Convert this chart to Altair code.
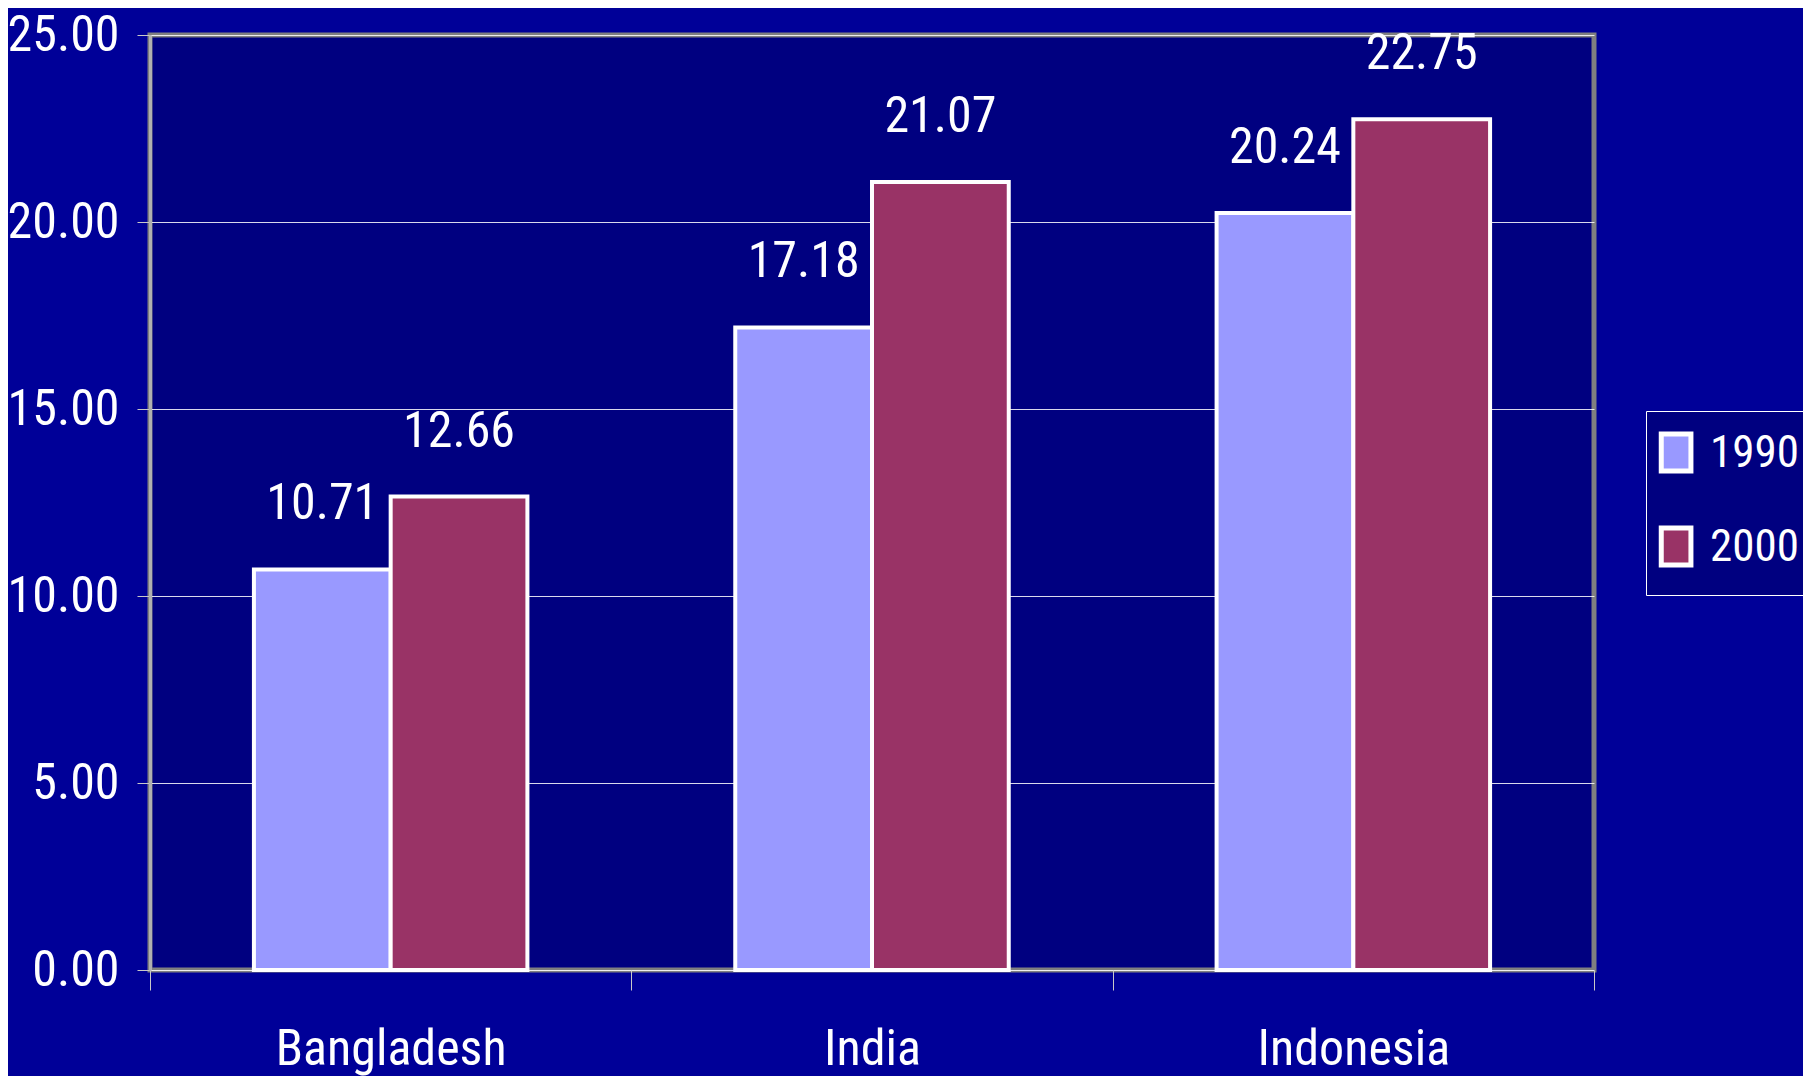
import altair as alt
import pandas as pd

countries = ["Bangladesh", "India", "Indonesia"]
years = ["1990", "2000"]
values_1990 = [10.71, 17.18, 20.24]
values_2000 = [12.66, 21.07, 22.75]
y_ticks = [0, 5, 10, 15, 20, 25]
colors = ["#9999FF", "#993366"]

rows = []
for c, a, b in zip(countries, values_1990, values_2000):
    rows.append({"country": c, "year": years[0], "value": a})
    rows.append({"country": c, "year": years[1], "value": b})
df = pd.DataFrame(rows)

FONT = "Roboto Condensed, Liberation Sans, Arial"
FS = 50

x = alt.X("country:N", sort=countries, title=None,
          scale=alt.Scale(paddingInner=0, paddingOuter=0),
          axis=alt.Axis(labelAngle=0, labelFontSize=FS, labelFont=FONT,
                        labelColor="white", tickBand="extent", tickSize=20,
                        tickColor="#C8C8C8", tickWidth=1, labelPadding=34,
                        labelLimit=0, domain=False, grid=False))
xo = alt.XOffset("year:N", sort=years, scale=alt.Scale(paddingInner=0, paddingOuter=0.76))
y = alt.Y("value:Q", title=None,
          scale=alt.Scale(domain=[0, 25], nice=False),
          axis=alt.Axis(values=y_ticks, format=".2f", labelFontSize=FS,
                        labelFont=FONT, labelColor="white", tickSize=13,
                        tickColor="#C8C8C8", labelPadding=18, labelLimit=0,
                        domainColor="#B0B0B0", domainWidth=3,
                        gridColor="white", gridWidth=1, gridOpacity=0.85))

color = alt.Color("year:N", sort=years,
                  scale=alt.Scale(domain=years, range=colors),
                  legend=alt.Legend(title=None, orient="none", legendX=1496, legendY=376,
                                    labelFont=FONT, labelFontSize=45, labelColor="white",
                                    labelLimit=0,
                                    symbolType="M-5.66,-4H0.74V4H-5.66Z", symbolSize=86,
                                    symbolStrokeColor="white", symbolStrokeWidth=5,
                                    symbolOpacity=1,
                                    rowPadding=35, labelOffset=0, padding=19,
                                    fillColor="#000080", strokeColor="white",
                                    cornerRadius=0))

bars = alt.Chart(df).mark_bar(stroke="white", strokeWidth=4, opacity=1).encode(
    x=x, xOffset=xo, y=y, color=color
)
labels = alt.Chart(df).mark_text(dy=-50, baseline="alphabetic", fontSize=FS,
                                 font=FONT, color="white").encode(
    x=alt.X("country:N", sort=countries), xOffset=alt.XOffset("year:N", sort=years),
    y="value:Q", text=alt.Text("value:Q", format=".2f")
)

chart = (bars + labels).properties(
    width=1444, height=935,
    padding={"left": 142, "top": 27, "right": 209, "bottom": 106},
    autosize=alt.AutoSizeParams(type="none"),
    background="#000098",
).configure_view(
    fill="#000080", stroke="#808080", strokeWidth=5
)

chart.save("out.html", embed_options={"renderer": "svg", "actions": False})
